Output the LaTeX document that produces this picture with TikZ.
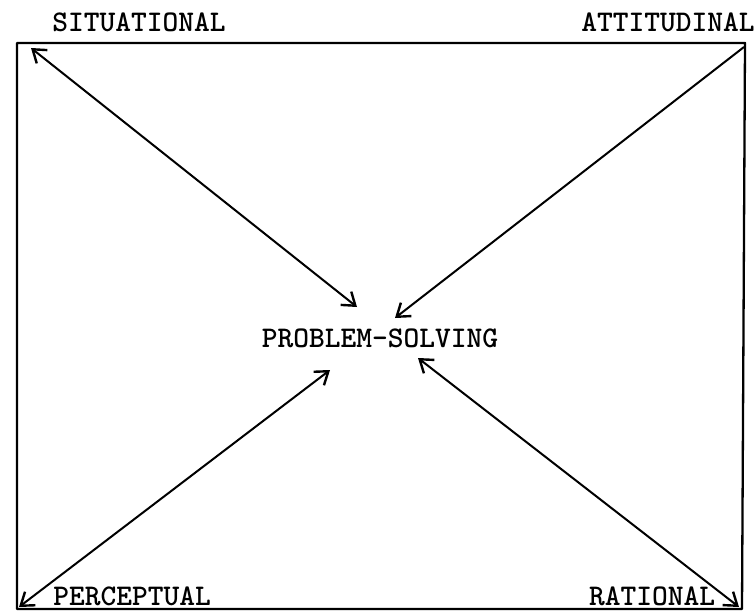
\documentclass[tikz,border=0pt]{standalone}
\usetikzlibrary{arrows.meta}
\begin{document}
\begin{tikzpicture}[x=1pt,y=-1pt,
  lbl/.style={font=\ttfamily\bfseries\fontsize{30}{31}\selectfont, inner sep=0pt, anchor=center},
  frame/.style={line width=2.3pt, line join=round},
  tip/.style={Straight Barb[length=12pt,width=17pt,line width=2.4pt]},
  link/.style={line width=2pt, {Straight Barb[length=12pt,width=17pt,line width=2.4pt]}-{Straight Barb[length=12pt,width=17pt,line width=2.4pt]}},
  onelink/.style={line width=2pt, -{Straight Barb[length=12pt,width=17pt,line width=2.4pt]}}]
\useasboundingbox (0,0) rectangle (755,613);
% frame corners
\coordinate (TL) at (17,43);
\coordinate (TR) at (745,43);
\coordinate (BR) at (742,609);
\coordinate (BL) at (17,609);
\draw[frame] (TL) -- (TR) -- (BR) -- (BL) -- cycle;
% labels
\node[lbl] (sit) at (139,22) {SITUATIONAL};
\node[lbl] (att) at (668,22) {ATTITUDINAL};
\node[lbl] (per) at (132,596) {PERCEPTUAL};
\node[lbl] (rat) at (652,596) {RATIONAL};
\node[lbl] (ps) at (380,338) {PROBLEM-SOLVING};
% arrow end points
\coordinate (aTL) at (31,48);
\coordinate (aTR) at (744,47);
\coordinate (aBL) at (19,607);
\coordinate (aBR) at (739,607);
\coordinate (pTL) at (357,307);
\coordinate (pTR) at (395,318);
\coordinate (pBL) at (330,370);
\coordinate (pBR) at (418,358);
\draw[link] (aTL) -- (pTL);
\draw[onelink] (aTR) -- (pTR);
\draw[link] (aBL) -- (pBL);
\draw[link] (aBR) -- (pBR);
\end{tikzpicture}
\end{document}
